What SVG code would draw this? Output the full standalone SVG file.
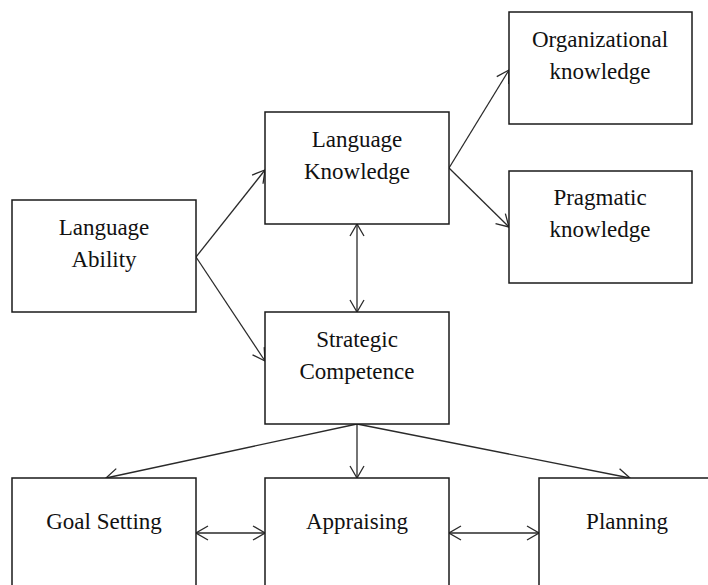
<svg xmlns="http://www.w3.org/2000/svg" width="708" height="585" viewBox="0 0 708 585" font-family="'Liberation Serif', 'Times New Roman', Times, serif">
  <style>
    .box { fill: #ffffff; stroke: #1a1a1a; stroke-width: 1.5; }
    text { font-family: 'Liberation Serif', 'Times New Roman', Times, serif; font-size: 23px; fill: #111111; text-anchor: middle; }
    .edge { fill: none; stroke: #2a2a2a; stroke-width: 1.3; }
  </style>
  <defs>
    <marker id="arrow" viewBox="0 0 14 16" refX="13" refY="8" markerWidth="14" markerHeight="16" markerUnits="userSpaceOnUse" orient="auto-start-reverse">
      <path d="M1,1 L13,8 L1,15" fill="none" stroke="#2a2a2a" stroke-width="1.3"/>
    </marker>
  </defs>

  <rect width="708" height="585" fill="#ffffff"/>

  <g id="connectors">
    <line class="edge" x1="196" y1="257" x2="265" y2="170" marker-end="url(#arrow)"/>
    <line class="edge" x1="196" y1="257" x2="265" y2="361" marker-end="url(#arrow)"/>
    <line class="edge" x1="449" y1="168" x2="509" y2="70" marker-end="url(#arrow)"/>
    <line class="edge" x1="449" y1="168" x2="509" y2="227" marker-end="url(#arrow)"/>
    <line class="edge" x1="357" y1="224" x2="357" y2="312" marker-start="url(#arrow)" marker-end="url(#arrow)"/>
    <line class="edge" x1="357" y1="424" x2="106" y2="478" marker-end="url(#arrow)"/>
    <line class="edge" x1="357" y1="424" x2="357" y2="478" marker-end="url(#arrow)"/>
    <line class="edge" x1="357" y1="424" x2="630" y2="478" marker-end="url(#arrow)"/>
    <line class="edge" x1="196" y1="533" x2="265" y2="533" marker-start="url(#arrow)" marker-end="url(#arrow)"/>
    <line class="edge" x1="449" y1="533" x2="539" y2="533" marker-start="url(#arrow)" marker-end="url(#arrow)"/>
  </g>

  <g id="language-ability">
    <rect class="box" x="12" y="200" width="184" height="112"/>
    <text x="104" y="235">Language</text>
    <text x="104" y="267">Ability</text>
  </g>

  <g id="language-knowledge">
    <rect class="box" x="265" y="112" width="184" height="112"/>
    <text x="357" y="147">Language</text>
    <text x="357" y="179">Knowledge</text>
  </g>

  <g id="organizational-knowledge">
    <rect class="box" x="509" y="12" width="183" height="112"/>
    <text x="600" y="47">Organizational</text>
    <text x="600" y="79">knowledge</text>
  </g>

  <g id="pragmatic-knowledge">
    <rect class="box" x="509" y="171" width="183" height="112"/>
    <text x="600" y="205">Pragmatic</text>
    <text x="600" y="237">knowledge</text>
  </g>

  <g id="strategic-competence">
    <rect class="box" x="265" y="312" width="184" height="112"/>
    <text x="357" y="347">Strategic</text>
    <text x="357" y="379">Competence</text>
  </g>

  <g id="goal-setting">
    <rect class="box" x="12" y="478" width="184" height="120"/>
    <text x="104" y="529">Goal Setting</text>
  </g>

  <g id="appraising">
    <rect class="box" x="265" y="478" width="184" height="120"/>
    <text x="357" y="529">Appraising</text>
  </g>

  <g id="planning">
    <rect class="box" x="539" y="478" width="180" height="120"/>
    <text x="627" y="529">Planning</text>
  </g>
</svg>
